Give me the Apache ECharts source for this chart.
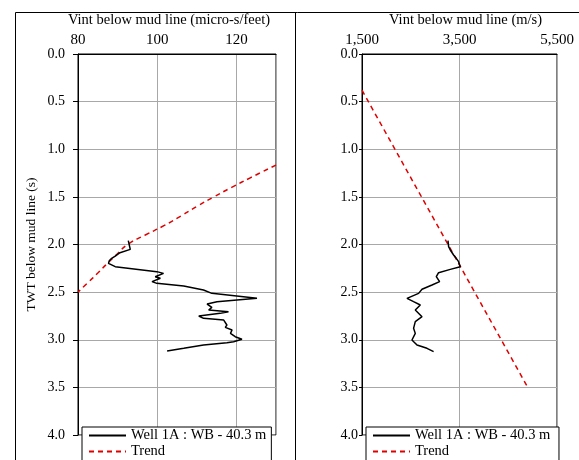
<!DOCTYPE html>
<html><head><meta charset="utf-8">
<script src="https://cdn.jsdelivr.net/npm/echarts@6/dist/echarts.min.js"></script>
<style>html,body{margin:0;padding:0;background:#fff}#c{width:579px;height:460px}</style>
</head><body><div id="c"></div>
<script>
// ---- data ----
const leftWellTwt = [1.960,2.051,2.086,2.121,2.145,2.170,2.198,2.215,2.233,2.285,2.303,2.338,2.355,2.390,2.408,2.436,2.478,2.513,2.565,2.600,2.625,2.660,2.688,2.706,2.723,2.751,2.775,2.793,2.845,2.870,2.898,2.933,2.968,2.995,3.021,3.031,3.055,3.090,3.118];
const leftWellVal = [92.7,93.2,90.6,89.4,88.5,87.9,87.7,87.3,89.4,99.9,101.6,99.5,100.8,98.7,99.9,106.7,111.7,113.8,125.2,115.1,112.6,113.8,113.0,118.0,115.9,110.5,111.7,116.8,117.6,117.2,118.9,118.5,119.7,121.4,119.3,117.6,111.7,106.7,102.5];
const leftTrendTwt = [1.166,1.3,1.4,1.5,1.6,1.7,1.8,1.9,2.0,2.1,2.2,2.3,2.4,2.5];
const leftTrendVal = [130,123.5,118.8,114.3,110,106,101.8,97,92.5,89.9,87.4,85,82.5,80];
const rightWellTwt = [1.960,2.023,2.058,2.110,2.145,2.180,2.233,2.261,2.296,2.338,2.390,2.425,2.470,2.513,2.565,2.600,2.635,2.688,2.758,2.810,2.880,2.933,3.003,3.055,3.090,3.125];
const rightWellVal = [3264,3277,3311,3379,3434,3481,3516,3311,3071,3024,3092,2936,2731,2661,2423,2558,2696,2593,2731,2593,2558,2593,2525,2628,2833,2969];
const rightTrendTwt = [0.38,3.5];
const rightTrendVal = [1500,4900];
const wellName = 'Well 1A : WB - 40.3 m';
const trendName = 'Trend';

const pairs = (xs, ys) => xs.map((x, i) => [x, ys[i]]);
const FONT = 'Liberation Serif';
const txt = (size) => ({fontFamily: FONT, fontSize: size, color: '#000'});

function yAxis(gi, withName, margin, tickLen) {
  return {
    type: 'value', gridIndex: gi, inverse: true, min: 0, max: 4, interval: 0.5,
    name: withName ? 'TWT below mud line (s)' : '', nameLocation: 'middle', nameGap: 40,
    nameTextStyle: txt(13.5),
    axisLine: {show: true, lineStyle: {color: '#000', width: 1}},
    axisTick: {show: true, length: tickLen, lineStyle: {color: '#000'}},
    axisLabel: Object.assign(txt(14), {formatter: v => v.toFixed(1), margin: margin}),
    splitLine: {show: true, lineStyle: {color: '#a8a8a8', width: 1}}
  };
}
function xAxis(gi, name, min, max, interval, fmt, pad) {
  return {
    type: 'value', gridIndex: gi, position: 'top', min: min, max: max, interval: interval,
    name: name, nameLocation: 'middle', nameGap: 23,
    nameTextStyle: Object.assign(txt(14.5), {padding: pad}),
    axisLine: {show: true, lineStyle: {color: '#000', width: 1}},
    axisTick: {show: false},
    axisLabel: Object.assign(txt(15), {formatter: fmt, margin: 6, showMaxLabel: (max - min) % interval === 0}),
    splitLine: {show: true, lineStyle: {color: '#a8a8a8', width: 1}}
  };
}
const fmtComma = v => v.toLocaleString('en-US');

function legend(left, names) {
  return {
    left: left, top: 427, height: 60, orient: 'vertical', itemWidth: 37, itemHeight: 10, itemGap: 1,
    padding: [1, 5, 8, 6], borderColor: '#000', borderWidth: 1, backgroundColor: '#fff', borderRadius: 0,
    itemStyle: {color: 'transparent', borderColor: 'transparent', borderWidth: 0},
    textStyle: txt(14.5), data: names.map(n => ({name: n})), selectedMode: false
  };
}

const chart = echarts.init(document.getElementById('c'), null, {renderer: 'canvas'});
const lineWell = {color: '#000', width: 1.5};
const lineTrend = {color: '#e00000', width: 1.5, type: [5, 4]};

chart.setOption({
  backgroundColor: '#fff',
  animation: false,
  grid: [
    {left: 78, right: 303, top: 54, bottom: 25, show: true, borderColor: '#000', borderWidth: 1, backgroundColor: 'transparent'},
    {left: 362, right: 22, top: 54, bottom: 25, show: true, borderColor: '#000', borderWidth: 1, backgroundColor: 'transparent'}
  ],
  xAxis: [
    xAxis(0, 'Vint below mud line (micro-s/feet)', 80, 130, 20, v => String(v), [0, 16, 0, 0]),
    xAxis(1, 'Vint below mud line (m/s)', 1500, 5500, 2000, fmtComma, [0, 0, 0, 12])
  ],
  yAxis: [yAxis(0, true, 13, 5), yAxis(1, false, 4, 3)],
  legend: [legend(82, [wellName, trendName]), legend(366, [wellName + ' ', trendName + ' '])],
  series: [
    {name: wellName, type: 'line', xAxisIndex: 0, yAxisIndex: 0, data: pairs(leftWellVal, leftWellTwt), symbol: 'none', lineStyle: lineWell, itemStyle: {color: '#000'}, z: 3},
    {name: trendName, type: 'line', smooth: true, xAxisIndex: 0, yAxisIndex: 0, data: pairs(leftTrendVal, leftTrendTwt), symbol: 'none', lineStyle: lineTrend, itemStyle: {color: '#e00000'}, z: 2},
    {name: wellName + ' ', type: 'line', xAxisIndex: 1, yAxisIndex: 1, data: pairs(rightWellVal, rightWellTwt), symbol: 'none', lineStyle: lineWell, itemStyle: {color: '#000'}, z: 3},
    {name: trendName + ' ', type: 'line', xAxisIndex: 1, yAxisIndex: 1, data: pairs(rightTrendVal, rightTrendTwt), symbol: 'none', lineStyle: lineTrend, itemStyle: {color: '#e00000'}, z: 2}
  ],
  graphic: [
    {type: 'polyline', shape: {points: [[15.5, 460], [15.5, 12.5], [579, 12.5]]}, style: {stroke: '#000', lineWidth: 1, fill: null}, silent: true},
    {type: 'line', shape: {x1: 295.5, y1: 12.5, x2: 295.5, y2: 460}, style: {stroke: '#000', lineWidth: 1}, silent: true}
  ]
});
</script></body></html>
